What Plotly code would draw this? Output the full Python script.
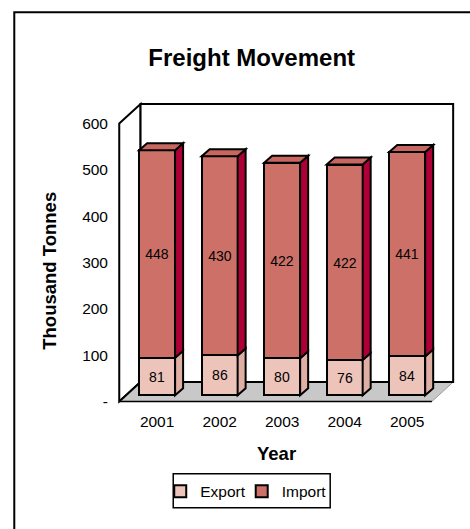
import plotly.graph_objects as go

# ---------------- data ----------------
years = ["2001", "2002", "2003", "2004", "2005"]
export_vals = [81, 86, 80, 76, 84]
import_vals = [448, 430, 422, 422, 441]
y_tick_vals = [0, 100, 200, 300, 400, 500, 600]
y_tick_text = ["-", "100", "200", "300", "400", "500", "600"]

# ---------------- styling / geometry ----------------
W, H = 470, 529
FONT = "Liberation Sans, Arial, sans-serif"
EXPORT_FRONT = "#ECC4BA"
EXPORT_SIDE = "#DFAFA4"
IMPORT_FRONT = "#CC7068"
IMPORT_TOP = "#C86660"
IMPORT_SIDE = "#AE0036"
FLOOR = "#C8C8C8"

PXX = 62.54      # px per category unit
PXY = 0.464      # px per value unit
X0_PX, Y0_PX = 119.0, 401.7   # pixel of (0,0) front plane
X_RANGE = [-0.1, 5.45]
Y_RANGE = [-14, 655]

L_PX = X0_PX + X_RANGE[0] * PXX
R_PX = X0_PX + X_RANGE[1] * PXX
T_PX = Y0_PX - Y_RANGE[1] * PXY
B_PX = Y0_PX - Y_RANGE[0] * PXY

def pxx(p):  # pixel -> paper x
    return (p - L_PX) / (R_PX - L_PX)

def pxy(p):  # pixel -> paper y
    return (B_PX - p) / (B_PX - T_PX)

n = len(years)
DXU = 21.3 / PXX          # depth of chart box
DYU = 19.5 / PXY
BAR_SHIFT = 6.6 / PXX     # front face of bars sits a bit inside the box
BAR_BASE = 6.2 / PXY
BAR_W = 36.0 / PXX
BDX = 8.0 / PXX           # bar depth
BDY = 7.0 / PXY
TOPV = y_tick_vals[-1]

cat_x = [i + 0.5 + BAR_SHIFT for i in range(n)]
export_base = [BAR_BASE] * n
import_base = [BAR_BASE + e for e in export_vals]

fig = go.Figure()
fig.add_trace(go.Bar(
    x=cat_x, y=export_vals, base=export_base, width=BAR_W, name="Export",
    marker=dict(color=EXPORT_FRONT, line=dict(color="black", width=2)),
    text=export_vals, textposition="inside", insidetextanchor="middle",
    constraintext="none", textfont=dict(size=14, color="black", family=FONT),
    hoverinfo="skip", legend="legend"))
fig.add_trace(go.Bar(
    x=cat_x, y=import_vals, base=import_base, width=BAR_W, name="Import",
    marker=dict(color=IMPORT_FRONT, line=dict(color="black", width=2)),
    text=import_vals, textposition="inside", insidetextanchor="middle",
    constraintext="none", textfont=dict(size=14, color="black", family=FONT),
    hoverinfo="skip", legend="legend2"))

shapes = []
# left wall
shapes.append(dict(type="path", xref="x", yref="y", layer="below",
                   path=f"M0,0L0,{TOPV}L{DXU},{TOPV+DYU}L{DXU},{DYU}Z",
                   fillcolor="white", line=dict(color="black", width=2)))
# floor
shapes.append(dict(type="path", xref="x", yref="y", layer="below",
                   path=f"M0,0L{n},0L{n+DXU},{DYU}L{DXU},{DYU}Z",
                   fillcolor=FLOOR, line=dict(color="#9A9A9A", width=1)))
# back wall
shapes.append(dict(type="rect", xref="x", yref="y", layer="below",
                   x0=DXU, y0=DYU, x1=n + DXU, y1=TOPV + DYU,
                   fillcolor="white", line=dict(color="black", width=2)))
# floor front edge and left diagonal
shapes.append(dict(type="line", xref="x", yref="y", layer="below",
                   x0=0, y0=0, x1=n, y1=0, line=dict(color="black", width=1.5)))
shapes.append(dict(type="line", xref="x", yref="y", layer="below",
                   x0=0, y0=0, x1=DXU, y1=DYU, line=dict(color="black", width=2)))

# 3D faces of bars
for i in range(n):
    xl = cat_x[i] - BAR_W / 2
    xr = cat_x[i] + BAR_W / 2
    b0 = export_base[i]
    b1 = import_base[i]
    top = b1 + import_vals[i]
    shapes.append(dict(type="path", xref="x", yref="y", layer="above",
                       path=f"M{xr},{b0}L{xr+BDX},{b0+BDY}L{xr+BDX},{b1+BDY}L{xr},{b1}Z",
                       fillcolor=EXPORT_SIDE, line=dict(color="black", width=2)))
    shapes.append(dict(type="path", xref="x", yref="y", layer="above",
                       path=f"M{xr},{b1}L{xr+BDX},{b1+BDY}L{xr+BDX},{top+BDY}L{xr},{top}Z",
                       fillcolor=IMPORT_SIDE, line=dict(color="black", width=2)))
    shapes.append(dict(type="path", xref="x", yref="y", layer="above",
                       path=f"M{xl},{top}L{xl+BDX},{top+BDY}L{xr+BDX},{top+BDY}L{xr},{top}Z",
                       fillcolor=IMPORT_TOP, line=dict(color="black", width=2)))

# outer chart border
shapes.append(dict(type="rect", xref="paper", yref="paper",
                   x0=pxx(14), x1=pxx(490), y0=pxy(12), y1=pxy(560),
                   fillcolor="rgba(0,0,0,0)", line=dict(color="black", width=2)))
# legend frame
shapes.append(dict(type="rect", xref="paper", yref="paper", layer="below",
                   x0=pxx(173), x1=pxx(330), y0=pxy(474), y1=pxy(508),
                   fillcolor="white", line=dict(color="black", width=1.5)))

annotations = [
    dict(text="<b>Thousand Tonnes</b>", textangle=-90, xref="paper", yref="paper",
         x=pxx(49), y=pxy(270.5), xanchor="center", yanchor="middle", showarrow=False,
         font=dict(size=18.5, color="black", family=FONT)),
    dict(text="<b>Year</b>", xref="paper", yref="paper",
         x=pxx(276.3), y=pxy(453.3), xanchor="center", yanchor="middle", showarrow=False,
         font=dict(size=18.5, color="black", family=FONT)),
]

legend_common = dict(orientation="h", xanchor="left", yanchor="top",
                     borderwidth=0, bgcolor="rgba(0,0,0,0)",
                     font=dict(size=15.5, color="black", family=FONT), itemwidth=30)

fig.update_layout(
    width=W, height=H, autosize=False,
    margin=dict(l=L_PX, r=W - R_PX, t=T_PX, b=H - B_PX, pad=0, autoexpand=False),
    paper_bgcolor="white", plot_bgcolor="white",
    barmode="overlay", bargap=0,
    font=dict(family=FONT, color="black", size=15),
    title=dict(text="<b>Freight Movement</b>", x=251.7 / W, xref="container",
               y=1 - 58.0 / H, yref="container", xanchor="center", yanchor="middle",
               font=dict(size=24, color="black", family=FONT)),
    xaxis=dict(range=X_RANGE, showgrid=False, zeroline=False, showline=False,
               tickvals=cat_x, ticktext=years, ticks="", ticklabelstandoff=2,
               tickfont=dict(size=15.5, color="black", family=FONT), fixedrange=True),
    yaxis=dict(range=Y_RANGE, showgrid=False, zeroline=False, showline=False,
               tickvals=y_tick_vals, ticktext=y_tick_text, ticks="", ticklabelstandoff=4,
               tickfont=dict(size=15.5, color="black", family=FONT), fixedrange=True),
    showlegend=True,
    legend=dict(x=pxx(160), y=pxy(475), **legend_common),
    legend2=dict(x=pxx(241.5), y=pxy(475), **legend_common),
    shapes=shapes,
    annotations=annotations,
)

fig.write_html("out.html", config={"displayModeBar": False},
               post_script="document.body.style.margin='0px';document.body.style.padding='0px';")
